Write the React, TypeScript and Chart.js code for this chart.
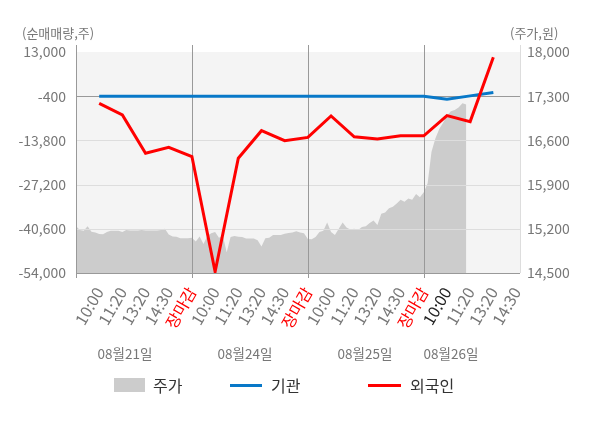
import { useEffect, useRef } from 'react';
import { Chart, registerables } from 'chart.js';

Chart.register(...registerables);

// x축 라벨 (카테고리)
const xLabels = [
  '10:00', '11:20', '13:20', '14:30', '장마감',
  '10:00', '11:20', '13:20', '14:30', '장마감',
  '10:00', '11:20', '13:20', '14:30', '장마감',
  '10:00', '11:20', '13:20', '14:30',
];
const dayLabels = ['08월21일', '08월24일', '08월25일', '08월26일'];

// 순매매량 (주)
const foreign = [-2550, -6100, -17700, -15900, -18700, -53600, -19200, -10850, -13900, -12900, -6400, -12700, -13400, -12400, -12400, -6300, -8100, 11400];
const institution = [-400, -400, -400, -400, -400, -400, -400, -400, -400, -400, -400, -400, -400, -400, -400, -1300, -300, 700];

// 주가 (원), 일자별 분봉 샘플
const priceDay1 = [15240, 15180, 15170, 15240, 15155, 15140, 15118, 15115, 15150, 15170, 15170, 15170, 15150, 15180, 15175, 15175, 15175, 15180, 15175, 15175, 15175, 15175, 15180, 15200, 15110, 15080, 15075, 15050, 15050, 15050];
const priceDay2 = [15060, 15000, 15080, 14960, 15090, 15130, 15150, 15060, 15090, 14830, 15070, 15085, 15075, 15070, 15045, 15045, 15045, 15020, 14920, 15050, 15060, 15100, 15100, 15100, 15120, 15135, 15140, 15160, 15140, 15130];
const priceDay3 = [15040, 15035, 15070, 15150, 15170, 15300, 15150, 15100, 15200, 15300, 15220, 15190, 15200, 15180, 15230, 15240, 15290, 15330, 15260, 15440, 15460, 15525, 15550, 15600, 15660, 15630, 15680, 15660, 15750, 15700];
const priceDay4 = [15780, 15920, 16420, 16630, 16780, 16880, 16990, 17060, 17080, 17120, 17190, 17170];

const leftTicks = [-54000, -40600, -27200, -13800, -400, 13000];
const rightTicks = [14500, 15200, 15900, 16600, 17300, 18000];

const SAMPLES_PER_DAY = 30;
const FONT = '"Noto Sans CJK KR", "Noto Sans", sans-serif';

export default function App() {
  const canvasRef = useRef<HTMLCanvasElement>(null);

  useEffect(() => {
    document.body.style.margin = '0';
    if (!canvasRef.current) return;

    const priceDays = [priceDay1, priceDay2, priceDay3, priceDay4];
    const pricePoints: { x: number; y: number }[] = [];
    priceDays.forEach((day, d) => {
      day.forEach((v, k) => {
        pricePoints.push({ x: d * 5 - 1 + (k * 5) / SAMPLES_PER_DAY, y: v });
      });
    });
    const dayEnds = xLabels.map((l, i) => (l === '장마감' ? i : -99)).filter((i) => i >= 0);

    const framePlugin = {
      id: 'frame',
      beforeDraw(chart: any) {
        const { ctx, chartArea: a } = chart;
        ctx.save();
        ctx.fillStyle = '#f4f4f4';
        ctx.fillRect(a.left, a.top, a.right - a.left, a.bottom - a.top);
        ctx.restore();
      },
      afterDatasetDraw(chart: any, args: any) {
        if (args.index !== 0) return;
        const { ctx, chartArea: a } = chart;
        const yL = chart.scales.yL;
        const x = chart.scales.x;
        ctx.save();
        ctx.lineWidth = 1;
        leftTicks.forEach((t) => {
          if (t === leftTicks[leftTicks.length - 1]) return;
          const py = Math.round(yL.getPixelForValue(t)) + 0.5;
          ctx.strokeStyle = t === -400 || t === leftTicks[0] ? '#999999' : '#dddddd';
          ctx.beginPath();
          ctx.moveTo(a.left, py);
          ctx.lineTo(a.right, py);
          ctx.stroke();
        });
        ctx.strokeStyle = '#dddddd';
        ctx.beginPath();
        ctx.moveTo(Math.round(a.right) + 0.5, a.top - 7);
        ctx.lineTo(Math.round(a.right) + 0.5, a.bottom);
        ctx.stroke();
        ctx.strokeStyle = '#999999';
        const verticals = [a.left, ...dayEnds.map((i) => x.getPixelForValue(i))];
        verticals.forEach((px) => {
          const vx = Math.round(px) + 0.5;
          ctx.beginPath();
          ctx.moveTo(vx, a.top - 7);
          ctx.lineTo(vx, a.bottom + 5);
          ctx.stroke();
        });
        ctx.restore();
      },
    };

    const chart = new Chart(canvasRef.current, {
      type: 'line',
      data: {
        datasets: [
          {
            label: '주가',
            data: pricePoints,
            yAxisID: 'yR',
            backgroundColor: '#cccccc',
            borderWidth: 0,
            pointRadius: 0,
            fill: 'start',
            order: 3,
          },
          {
            label: '기관',
            data: institution.map((v, i) => ({ x: i, y: v })),
            yAxisID: 'yL',
            borderColor: '#0878c8',
            borderWidth: 3,
            pointRadius: 0,
            fill: false,
            order: 2,
          },
          {
            label: '외국인',
            data: foreign.map((v, i) => ({ x: i, y: v })),
            yAxisID: 'yL',
            borderColor: '#ff0000',
            borderWidth: 3,
            pointRadius: 0,
            fill: false,
            order: 1,
          },
        ],
      },
      options: {
        animation: false,
        responsive: true,
        maintainAspectRatio: false,
        layout: { padding: { top: 52, left: 0, right: 0, bottom: 0 } },
        font: { family: FONT },
        plugins: { legend: { display: false }, tooltip: { enabled: false } },
        scales: {
          x: {
            type: 'linear',
            min: -1,
            max: 18.15,
            afterBuildTicks: (scale: any) => {
              scale.ticks = xLabels.map((_, i) => ({ value: i }));
            },
            afterFit: (scale: any) => {
              scale.height = 155;
            },
            grid: { display: false, drawTicks: false },
            border: { display: false },
            ticks: {
              autoSkip: false,
              minRotation: 60,
              maxRotation: 60,
              padding: 11,
              font: { family: FONT, size: 16 },
              color: (ctx: any) => {
                const i = ctx.tick ? ctx.tick.value : ctx.index;
                if (xLabels[i] === '장마감') return '#ff0000';
                if (i === 15) return '#222222';
                return '#777777';
              },
              callback: (v: any) => xLabels[v] ?? '',
            },
          },
          yL: {
            type: 'linear',
            position: 'left',
            min: -54000,
            max: 13000,
            afterBuildTicks: (scale: any) => {
              scale.ticks = leftTicks.map((v) => ({ value: v }));
            },
            afterFit: (scale: any) => {
              scale.width = 76;
            },
            grid: { display: false, drawTicks: false },
            border: { display: false },
            ticks: {
              padding: 10,
              font: { family: FONT, size: 14 },
              color: '#777777',
              callback: (v: any) => Number(v).toLocaleString('en-US'),
            },
          },
          yR: {
            type: 'linear',
            position: 'right',
            min: 14500,
            max: 18000,
            afterBuildTicks: (scale: any) => {
              scale.ticks = rightTicks.map((v) => ({ value: v }));
            },
            afterFit: (scale: any) => {
              scale.width = 80;
            },
            grid: { display: false, drawTicks: false },
            border: { display: false },
            ticks: {
              padding: 7,
              font: { family: FONT, size: 14 },
              color: '#777777',
              callback: (v: any) => Number(v).toLocaleString('en-US'),
            },
          },
        },
      },
      plugins: [framePlugin],
    } as any);

    return () => chart.destroy();
  }, []);

  const dayCenters = [125, 245, 365, 451];
  const text = { position: 'absolute' as const, whiteSpace: 'nowrap' as const, lineHeight: '16px' };

  return (
    <div style={{ position: 'relative', width: 600, height: 428, fontFamily: FONT, background: '#ffffff' }}>
      <canvas ref={canvasRef} style={{ position: 'absolute', left: 0, top: 0 }}></canvas>
      <div style={{ ...text, left: 22, top: 25, fontSize: 13, color: '#777777' }}>(순매매량,주)</div>
      <div style={{ ...text, left: 510, top: 25, fontSize: 13, color: '#777777' }}>(주가,원)</div>
      {dayLabels.map((d, i) => (
        <div key={d} style={{ ...text, left: dayCenters[i], top: 345, transform: 'translateX(-50%)', fontSize: 13.5, color: '#777777' }}>
          {d}
        </div>
      ))}
      <div style={{ position: 'absolute', left: 114, top: 378, width: 31, height: 14, background: '#cccccc' }}></div>
      <div style={{ ...text, left: 153, top: 376, fontSize: 16, lineHeight: '18px', color: '#333333' }}>주가</div>
      <div style={{ position: 'absolute', left: 230, top: 384, width: 32, height: 3, background: '#0878c8' }}></div>
      <div style={{ ...text, left: 271, top: 376, fontSize: 16, lineHeight: '18px', color: '#333333' }}>기관</div>
      <div style={{ position: 'absolute', left: 368, top: 384, width: 33, height: 3, background: '#ff0000' }}></div>
      <div style={{ ...text, left: 410, top: 376, fontSize: 16, lineHeight: '18px', color: '#333333' }}>외국인</div>
    </div>
  );
}
